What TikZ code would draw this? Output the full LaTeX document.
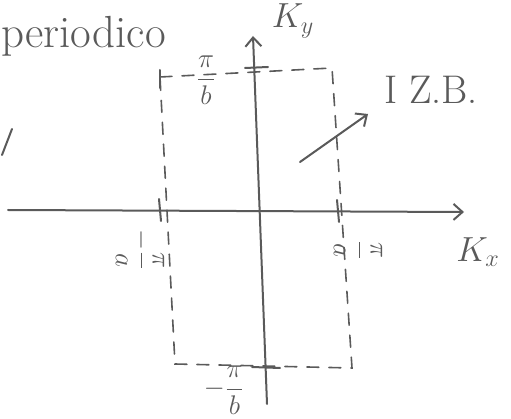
\documentclass[tikz,border=0pt]{standalone}
\usepackage{fontspec}
\usepackage{graphicx}
\usetikzlibrary{arrows.meta}
\definecolor{ink}{HTML}{5A5A5A}
\begin{document}
\begin{tikzpicture}[x=1pt,y=-1pt,
  stroke/.style={draw=ink,line width=2pt,line cap=round},
  dashline/.style={draw=ink,line width=1.6pt,dash pattern=on 12pt off 10pt,line cap=round},
  barb/.style={-{Straight Barb[length=9pt,width=16pt,line width=2pt]}},
  lbl/.style={text=ink,inner sep=0pt},
  frac/.style={lbl,font=\fontsize{20}{22}\selectfont}]
\useasboundingbox (0,0) rectangle (511,419);
% coordinates
\coordinate (xl) at (8,210);
\coordinate (xr) at (464,212);
\coordinate (yb) at (267,404);
\coordinate (yt) at (253,36);
\coordinate (tl) at (160,77);
\coordinate (tr) at (332,68);
\coordinate (br) at (352,368);
\coordinate (bl) at (175,364);
% dashed zone
\draw[dashline] (tl) -- (tr) -- (br) -- (bl) -- cycle;
% axes
\draw[stroke,barb] (xl) -- (xr);
\draw[stroke,barb] (yb) -- (yt);
% ticks
\draw[stroke] (159,199) -- (161,221);
\draw[stroke] (337,200) -- (339,222);
\draw[stroke] (245,68) -- (268,67);
\draw[stroke] (252,367) -- (280,368);
\draw[stroke] (160,70) -- (160,88);
% labels
\node[lbl,font=\fontsize{24}{26}\selectfont] (ky) at (293,21) {\scalebox{1.4}{$K_y$}};
\node[lbl,font=\fontsize{24}{26}\selectfont] (kx) at (478,252) {\scalebox{1.4}{$K_x$}};
\node[frac] (pb) at (206,80) {\scalebox{1.3}{$\displaystyle\frac{\pi}{b}$}};
\node[frac] (mpb) at (224,390) {\scalebox{1.3}{$\displaystyle-\frac{\pi}{b}$}};
\node[frac,rotate=-90] (mpa) at (140,250) {\scalebox{1.3}{$\displaystyle-\frac{\pi}{a}$}};
\node[frac,rotate=-90] (pa) at (358,250) {\scalebox{1.3}{$\displaystyle\frac{\pi}{a}$}};
\node[lbl,font=\fontsize{45}{47}\selectfont,anchor=west] (per) at (1,36) {periodico};
\node[lbl,font=\fontsize{40}{42}\selectfont] (izb) at (431,90) {I Z.B.};
% arrow to zone label
\coordinate (as) at (300,162);
\coordinate (ae) at (368,114);
\draw[stroke,barb] (as) -- (ae);
% check mark
\draw[stroke] (2,155) -- (12,129);
\end{tikzpicture}
\end{document}
